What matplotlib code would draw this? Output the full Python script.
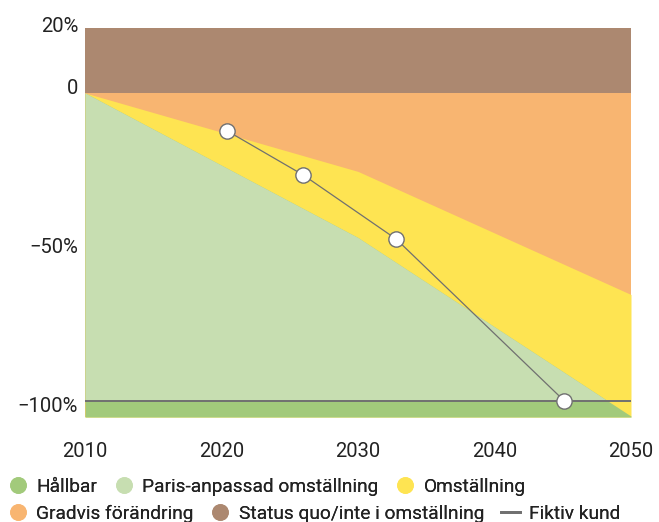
import numpy as np
import matplotlib
matplotlib.use('Agg')
import matplotlib.pyplot as plt
from matplotlib.lines import Line2D
from matplotlib.transforms import ScaledTranslation

plt.rcParams['font.family'] = ['Roboto', 'DejaVu Sans']

# ── data ──────────────────────────────────────────────────────────────────────
YEARS        = np.array([2010, 2030, 2050])
PARIS        = np.array([0.0, -47.0, -105.0])   # Paris-anpassad omställning, lower edge
OMSTALLNING  = np.array([0.0, -25.5, -65.5])    # Omställning, upper edge
HALLBAR_TOP  = -100.0
STATUS_TOP   = 21.1
Y_BOTTOM     = -105.3

KUND_YEARS   = [2020.4, 2026.0, 2032.8, 2045.1]
KUND_VALUES  = [-12.3, -26.7, -47.5, -100.0]

YTICKS       = [20, 0, -50, -100]
YTICK_LABELS = ['20%', '0', '\u221250%', '\u2212100%']
XTICKS       = [2010, 2020, 2030, 2040, 2050]

COLORS = {
    'hallbar': '#A2CA7B',
    'paris':   '#C7DEB1',
    'oms':     '#FEE452',
    'gradvis': '#F8B571',
    'status':  '#AC8870',
    'kund':    '#707070',
}
TEXT = '#222222'

# ── figure ────────────────────────────────────────────────────────────────────
fig = plt.figure(figsize=(6.59, 5.22), dpi=100)
ax = fig.add_axes([0.129, 0.2011, 0.8285, 0.7453])

ax.fill_between(YEARS, 0, STATUS_TOP + 5, color=COLORS['status'], lw=0)
ax.fill_between(YEARS, Y_BOTTOM, 0, color=COLORS['gradvis'], lw=0)
ax.fill_between(YEARS, Y_BOTTOM, OMSTALLNING, color=COLORS['oms'], lw=0)
ax.fill_between(YEARS, Y_BOTTOM, PARIS, color=COLORS['hallbar'], lw=0)
ax.fill_between(YEARS, HALLBAR_TOP, PARIS, where=PARIS >= HALLBAR_TOP,
                interpolate=True, color=COLORS['paris'], lw=0)

ax.axhline(HALLBAR_TOP, color=COLORS['kund'], lw=1.4, zorder=3)
ax.plot(KUND_YEARS, KUND_VALUES, color=COLORS['kund'], lw=0.9, zorder=4,
        marker='o', markersize=11, markerfacecolor='white',
        markeredgecolor=COLORS['kund'], markeredgewidth=1.0)

ax.set_xlim(2010, 2050)
ax.set_ylim(Y_BOTTOM, STATUS_TOP)
ax.set_xticks(XTICKS)
ax.set_yticks(YTICKS)
ax.set_yticklabels(YTICK_LABELS)
ax.tick_params(axis='both', length=0, labelsize=14.5, colors=TEXT)
ax.tick_params(axis='x', pad=18)
ax.tick_params(axis='y', pad=5)
for sp in ax.spines.values():
    sp.set_visible(False)

# labels sit slightly off their values in the original
offsets_px = [7, 6, 1, -4]
for lab, off in zip(ax.get_yticklabels(), offsets_px):
    lab.set_transform(lab.get_transform() +
                      ScaledTranslation(0, off / 100, fig.dpi_scale_trans))

# ── legend (two rows) ─────────────────────────────────────────────────────────
def dot(c):
    return Line2D([], [], ls='none', marker='o', markersize=12,
                  markerfacecolor=c, markeredgecolor='none')

row1 = [(dot(COLORS['hallbar']), 'Hållbar'),
        (dot(COLORS['paris']), 'Paris-anpassad omställning'),
        (dot(COLORS['oms']), 'Omställning')]
row2 = [(dot(COLORS['gradvis']), 'Gradvis förändring'),
        (dot(COLORS['status']), 'Status quo/inte i omställning'),
        (Line2D([], [], color=COLORS['kund'], lw=2), 'Fiktiv kund')]

for i, row in enumerate([row1, row2]):
    leg = fig.legend([h for h, _ in row], [t for _, t in row],
                     loc='center left', bbox_to_anchor=(0.004, 1 - (487 + 27 * i) / 522),
                     ncol=3, frameon=False, fontsize=13.8, handlelength=1.0,
                     handletextpad=0.45, columnspacing=0.9, borderaxespad=0,
                     borderpad=0.3)
    for t in leg.get_texts():
        t.set_color(TEXT)
    fig.add_artist(leg)

fig.savefig('out.png', dpi=100)
